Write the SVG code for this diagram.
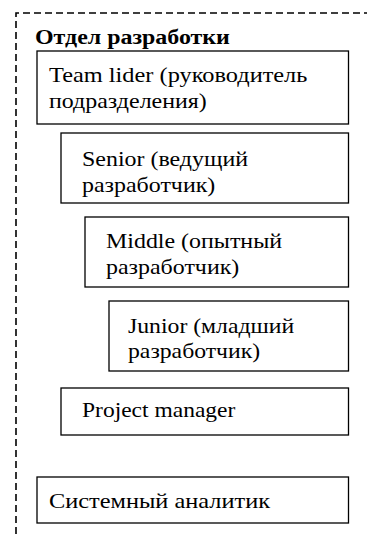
<svg xmlns="http://www.w3.org/2000/svg" width="367" height="538" viewBox="0 0 367 538">
<style>
.box{fill:#fff;stroke:#000;stroke-width:1.3}
.frame{fill:none;stroke:#000;stroke-width:1.6;stroke-dasharray:7 4}
</style>
<rect width="367" height="538" fill="#fff"/>
<g font-family="Liberation Serif, serif" font-size="21" fill="#000">
<g id="department">
<path class="frame" d="M16,545 V13 H380"/>
<text font-weight="bold" transform="translate(35,44) scale(1.14,1)">Отдел разработки</text>
</g>
<g id="connectors"></g>
<g id="teamlead">
<rect class="box" x="37" y="51" width="311.5" height="73"/>
<text transform="translate(49,82) scale(1.16,1)"><tspan x="0" y="0">Team lider (руководитель</tspan></text>
<text transform="translate(49,108) scale(1.14,1)">подразделения)</text>
</g>
<g id="senior">
<rect class="box" x="61" y="133" width="287.5" height="70"/>
<text transform="translate(82,166) scale(1.14,1)"><tspan x="0" y="0">Senior (ведущий</tspan><tspan x="0" y="26">разработчик)</tspan></text>
</g>
<g id="middle">
<rect class="box" x="85" y="217" width="263.5" height="70"/>
<text transform="translate(106,248) scale(1.14,1)"><tspan x="0" y="0">Middle (опытный</tspan><tspan x="0" y="26">разработчик)</tspan></text>
</g>
<g id="junior">
<rect class="box" x="109" y="301" width="239.5" height="70"/>
<text transform="translate(128,333) scale(1.13,1)"><tspan x="0" y="0">Junior (младший</tspan><tspan x="0" y="25">разработчик)</tspan></text>
</g>
<g id="pm">
<rect class="box" x="61" y="388" width="287.5" height="47"/>
<text transform="translate(82,417) scale(1.12,1)">Project manager</text>
</g>
<g id="analyst">
<rect class="box" x="37" y="477" width="311.5" height="46"/>
<text transform="translate(49,508) scale(1.16,1)">Системный аналитик</text>
</g>
</g>
</svg>
